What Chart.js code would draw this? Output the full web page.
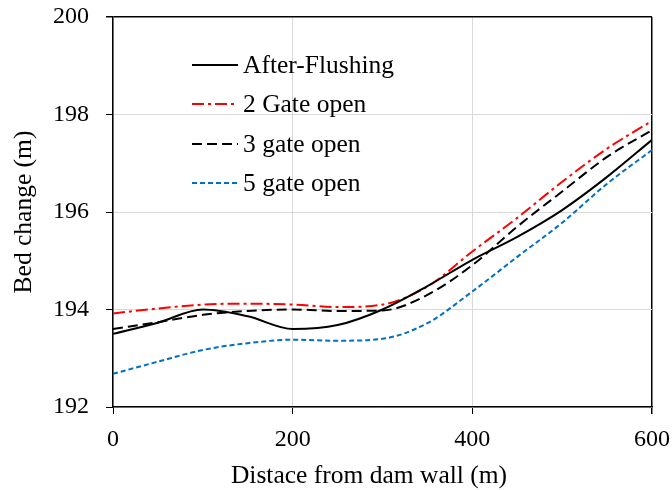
<!DOCTYPE html>
<html>
<head>
<meta charset="utf-8">
<script src="https://cdn.jsdelivr.net/npm/chart.js@4.4.1/dist/chart.umd.min.js"></script>
<style>
  html, body { margin: 0; padding: 0; background: #fff; }
  #wrap { width: 672px; height: 490px; }
</style>
</head>
<body>
<div id="wrap"><canvas id="c" width="672" height="490"></canvas></div>
<script>
// Distance from the dam wall (m) and bed elevation (m) for each scenario
const distance = [0, 50, 100, 150, 200, 250, 300, 350, 400, 450, 500, 550, 600];
const afterFlushing = [193.50, 193.73, 194.00, 193.86, 193.60, 193.68, 194.00, 194.48, 195.02, 195.49, 196.04, 196.72, 197.48];
const twoGate  = [193.92, 194.02, 194.10, 194.12, 194.10, 194.05, 194.10, 194.47, 195.19, 195.88, 196.62, 197.30, 197.87];
const threeGate = [193.60, 193.74, 193.89, 193.97, 194.00, 193.97, 193.98, 194.30, 194.91, 195.70, 196.42, 197.13, 197.68];
const fiveGate = [192.68, 192.93, 193.17, 193.31, 193.38, 193.36, 193.40, 193.72, 194.37, 195.08, 195.78, 196.58, 197.27];

const seriesNames = ['After-Flushing', '2 Gate open', '3 gate open', '5 gate open'];
const xTicks = [0, 200, 400, 600];
const yTicks = [192, 194, 196, 198, 200];
const xTitle = 'Distace from dam wall (m)';
const yTitle = 'Bed change (m)';

const FONT = '"Liberation Serif", "Times New Roman", serif';

function toPoints(ys) { return distance.map((x, i) => ({ x: x, y: ys[i] })); }

const styles = [
  { color: '#000000', dash: [] },
  { color: '#ff0000', dash: [12, 4, 3, 4] },
  { color: '#000000', dash: [10, 5] },
  { color: '#0070c0', dash: [5, 3] }
];
const values = [afterFlushing, twoGate, threeGate, fiveGate];

const datasets = values.map((v, i) => ({
  label: seriesNames[i],
  data: toPoints(v),
  borderColor: styles[i].color,
  borderDash: styles[i].dash,
  borderWidth: 2,
  pointRadius: 0,
  fill: false,
  cubicInterpolationMode: 'monotone'
}));

// Legend inside the plot area (upper left) and the horizontal axis title
const annotations = {
  id: 'annotations',
  afterDatasetsDraw(chart) {
    const { ctx, chartArea } = chart;
    const x0 = chartArea.left + 79;
    const x1 = chartArea.left + 125;
    const rows = [48, 87, 127, 166];
    ctx.save();
    ctx.font = '25.5px ' + FONT;
    ctx.textBaseline = 'middle';
    ctx.textAlign = 'left';
    chart.data.datasets.forEach((ds, i) => {
      const y = chartArea.top + rows[i];
      ctx.beginPath();
      ctx.setLineDash(ds.borderDash || []);
      ctx.strokeStyle = ds.borderColor;
      ctx.lineWidth = 2;
      ctx.moveTo(x0, y);
      ctx.lineTo(x1, y);
      ctx.stroke();
      ctx.setLineDash([]);
      ctx.fillStyle = '#000';
      ctx.fillText(ds.label, x1 + 5, y + 1);
    });
    ctx.textAlign = 'center';
    ctx.fillText(xTitle, chartArea.left + 256, chartArea.bottom + 69);
    ctx.restore();
  }
};

new Chart(document.getElementById('c'), {
  type: 'line',
  data: { datasets: datasets },
  plugins: [annotations],
  options: {
    responsive: false,
    animation: false,
    layout: { padding: { left: 0, right: 20, top: 17, bottom: 0 } },
    plugins: { legend: { display: false }, tooltip: { enabled: false } },
    scales: {
      x: {
        type: 'linear',
        min: 0, max: 600,
        afterBuildTicks(scale) { scale.ticks = xTicks.map(v => ({ value: v })); },
        afterFit(scale) { scale.height = 83; scale.paddingLeft = 0; scale.paddingRight = 0; },
        ticks: { color: '#000', font: { family: FONT, size: 24 }, padding: 11, maxRotation: 0 },
        grid: {
          color: c => (c.tick && c.tick.value === 600) ? '#000' : '#d9d9d9',
          lineWidth: c => (c.tick && c.tick.value === 600) ? 1.5 : 1,
          tickColor: '#000',
          tickLength: 7
        },
        border: { color: '#000', width: 1.5 }
      },
      y: {
        min: 192, max: 200,
        afterBuildTicks(scale) { scale.ticks = yTicks.map(v => ({ value: v })); },
        afterFit(scale) { scale.width = 113; scale.paddingTop = 0; scale.paddingBottom = 0; },
        ticks: { color: '#000', font: { family: FONT, size: 24 }, padding: 17 },
        grid: {
          color: c => (c.tick && c.tick.value === 200) ? '#000' : '#d9d9d9',
          lineWidth: c => (c.tick && c.tick.value === 200) ? 1.5 : 1,
          tickColor: '#000',
          tickLength: 7
        },
        border: { color: '#000', width: 1.5 },
        title: { display: true, text: yTitle, color: '#000', font: { family: FONT, size: 25.5 }, padding: { top: 9, bottom: 0 } }
      }
    }
  }
});
</script>
</body>
</html>
